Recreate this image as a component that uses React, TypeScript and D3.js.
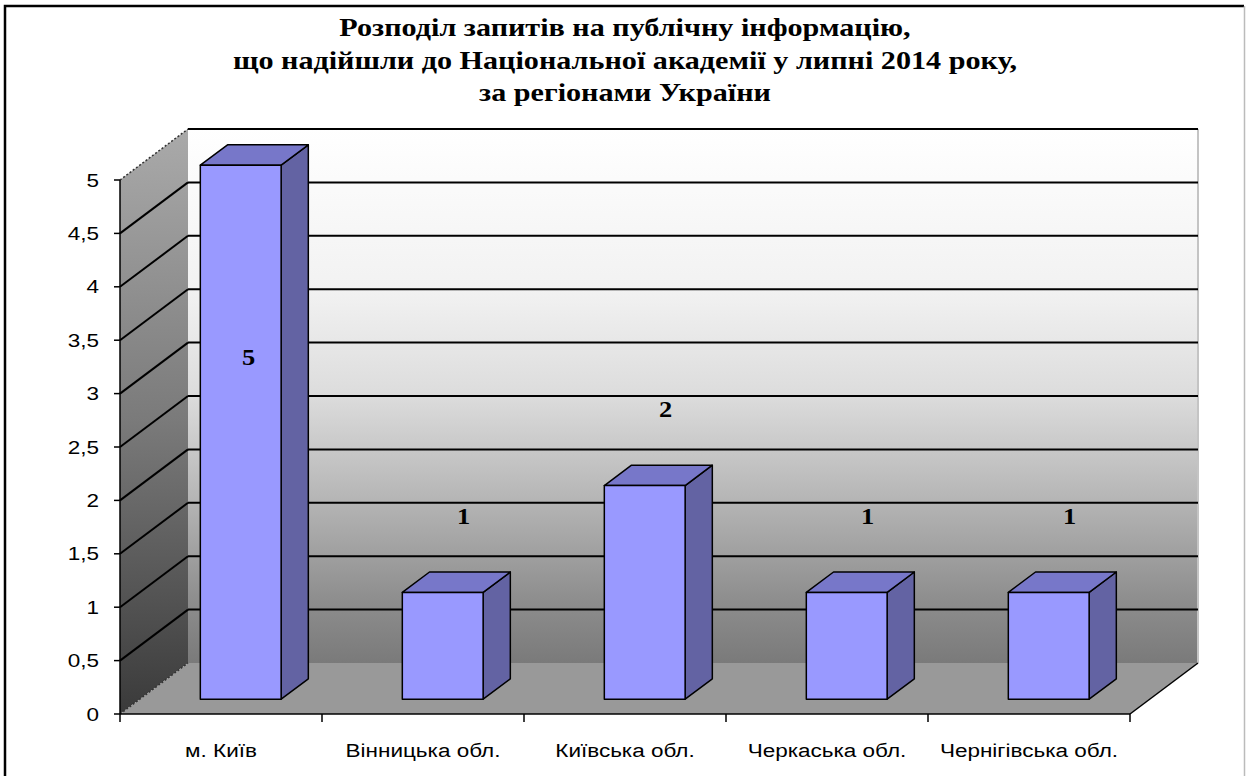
import * as React from "react";
import * as d3 from "d3";

const titleLines = [
  "Розподіл запитів на публічну інформацію,",
  "що надійшли до Національної академії у липні 2014 року,",
  "за регіонами України",
];
const categories = [
  "м. Київ",
  "Вінницька обл.",
  "Київська обл.",
  "Черкаська обл.",
  "Чернігівська обл.",
];
const values = [5, 1, 2, 1, 1];
const yTicks = [0, 0.5, 1, 1.5, 2, 2.5, 3, 3.5, 4, 4.5, 5];

export default function App() {
  const ref = React.useRef<HTMLDivElement | null>(null);
  React.useEffect(() => {
    const width = 1246;
    const height = 776;
    // the original picture is stretched horizontally
    const sx = 1.25;
    const svg = d3
      .select(ref.current)
      .append("svg")
      .attr("width", width)
      .attr("height", height)
      .style("position", "absolute")
      .style("left", "0px")
      .style("top", "0px")
      .style("background", "#fff");

    // front plane of the 3d box
    const x0 = 120;
    const x1 = 1130;
    const yScale = d3.scaleLinear([0, 5], [714, 180]);
    // depth vector (front -> back)
    const ddx = 68;
    const ddy = -51;
    const proj = (x: number, v: number, d: number): [number, number] => [
      x + d * ddx,
      yScale(v) + d * ddy,
    ];
    const xBand = d3
      .scaleBand<string>()
      .domain(categories)
      .range([x0, x1])
      .paddingInner(0.6)
      .paddingOuter(0.3);
    const step = xBand.step();
    const barD0 = 0.29;
    const barD1 = 0.69;

    const defs = svg.append("defs");
    const backGrad = defs
      .append("linearGradient")
      .attr("id", "backGrad")
      .attr("x1", 0)
      .attr("y1", 0)
      .attr("x2", 0)
      .attr("y2", 1);
    [
      [0, "#ffffff"],
      [0.3, "#f2f2f2"],
      [0.5, "#dcdcdc"],
      [0.7, "#b4b4b4"],
      [0.88, "#8e8e8e"],
      [1, "#7a7a7a"],
    ].forEach(([o, c]) =>
      backGrad.append("stop").attr("offset", o).attr("stop-color", c)
    );
    const leftGrad = defs
      .append("linearGradient")
      .attr("id", "leftGrad")
      .attr("x1", 0)
      .attr("y1", 0)
      .attr("x2", 0)
      .attr("y2", 1);
    [
      [0, "#aaaaaa"],
      [0.5, "#7a7a7a"],
      [1, "#3a3a3a"],
    ].forEach(([o, c]) =>
      leftGrad.append("stop").attr("offset", o).attr("stop-color", c)
    );

    const line = d3.line();

    // text helper, stretched like the source image
    const addText = (
      g: d3.Selection<any, unknown, null, undefined>,
      x: number,
      y: number,
      txt: string,
      opts: {
        size: number;
        serif?: boolean;
        bold?: boolean;
        anchor?: string;
        scale?: number;
      }
    ) =>
      g
        .append("text")
        .attr("transform", `translate(${x},${y}) scale(${opts.scale || sx},1)`)
        .attr("text-anchor", opts.anchor || "middle")
        .attr(
          "font-family",
          opts.serif
            ? "'Liberation Serif', 'Times New Roman', serif"
            : "'Liberation Sans', Arial, sans-serif"
        )
        .attr("font-weight", opts.bold ? "bold" : "normal")
        .attr("font-size", opts.size)
        .text(txt);

    // outer border
    svg
      .append("path")
      .attr("d", `M5,${height + 5}V6H1244`)
      .attr("fill", "none")
      .attr("stroke", "#000")
      .attr("stroke-width", 2.5);
    svg
      .append("line")
      .attr("x1", 1244.5)
      .attr("x2", 1244.5)
      .attr("y1", 6)
      .attr("y2", height)
      .attr("stroke", "#bbb")
      .attr("stroke-width", 1.5);

    // title
    const titleG = svg.append("g");
    titleLines.forEach((t, i) => {
      addText(titleG as any, 625, 36 + i * 32.5, t, {
        size: 26,
        serif: true,
        bold: true,
        scale: 1.16,
      });
    });

    // walls and floor
    const backPoly = [
      proj(x0, 0, 1),
      proj(x0, 5, 1),
      proj(x1, 5, 1),
      proj(x1, 0, 1),
    ];
    svg
      .append("path")
      .attr("d", line(backPoly) + "Z")
      .attr("fill", "url(#backGrad)");
    const leftPoly = [
      proj(x0, 0, 0),
      proj(x0, 5, 0),
      proj(x0, 5, 1),
      proj(x0, 0, 1),
    ];
    svg
      .append("path")
      .attr("d", line(leftPoly) + "Z")
      .attr("fill", "url(#leftGrad)");
    const floorPoly = [
      proj(x0, 0, 0),
      proj(x1, 0, 0),
      proj(x1, 0, 1),
      proj(x0, 0, 1),
    ];
    svg
      .append("path")
      .attr("d", line(floorPoly) + "Z")
      .attr("fill", "#999999");

    // right edge of back wall
    svg
      .append("path")
      .attr("d", line([proj(x1, 5, 1), proj(x1, 0, 1)]))
      .attr("stroke", "#c4c4c4")
      .attr("stroke-width", 2);

    // gridlines on back wall and left wall
    const grid = svg.append("g");
    yTicks
      .filter((t) => t > 0)
      .forEach((t) => {
        grid
          .append("path")
          .attr("d", line([proj(x0, t, 1), proj(x1, t, 1)]))
          .attr("stroke", "#000")
          .attr("stroke-width", 2);
      });
    yTicks.forEach((t) => {
      const dotted = t === 0 || t === 5;
      grid
        .append("path")
        .attr("d", line([proj(x0, t, 0), proj(x0, t, 1)]))
        .attr("stroke", dotted ? "#333" : "#000")
        .attr("stroke-width", dotted ? 1.5 : 2)
        .attr("stroke-dasharray", dotted ? "2,2" : null);
    });

    // right floor edge
    svg
      .append("path")
      .attr("d", line([proj(x1, 0, 0), proj(x1, 0, 1)]))
      .attr("stroke", "#000")
      .attr("stroke-width", 1.5);

    // value axis
    const axisG = svg.append("g");
    axisG
      .append("line")
      .attr("x1", x0)
      .attr("x2", x0)
      .attr("y1", yScale(5))
      .attr("y2", yScale(0))
      .attr("stroke", "#000")
      .attr("stroke-width", 1.5);
    yTicks.forEach((t) => {
      axisG
        .append("line")
        .attr("x1", x0 - 6)
        .attr("x2", x0)
        .attr("y1", yScale(t))
        .attr("y2", yScale(t))
        .attr("stroke", "#000")
        .attr("stroke-width", 1.5);
      addText(axisG as any, x0 - 21, yScale(t) + 6.5, String(t).replace(".", ","), {
        size: 18,
        anchor: "end",
      });
    });

    // category axis
    axisG
      .append("line")
      .attr("x1", x0)
      .attr("x2", x1)
      .attr("y1", yScale(0))
      .attr("y2", yScale(0))
      .attr("stroke", "#000")
      .attr("stroke-width", 1.5);
    d3.range(categories.length + 1).forEach((i) => {
      axisG
        .append("line")
        .attr("x1", x0 + i * step)
        .attr("x2", x0 + i * step)
        .attr("y1", yScale(0))
        .attr("y2", yScale(0) + 8)
        .attr("stroke", "#000")
        .attr("stroke-width", 1.5);
    });
    categories.forEach((c) => {
      addText(axisG as any, (xBand(c) as number) + xBand.bandwidth() / 2, 757, c, {
        size: 18,
      });
    });

    // bars
    const barsG = svg.append("g");
    categories.forEach((c, i) => {
      const v = values[i];
      const bx0 = xBand(c) as number;
      const bx1 = bx0 + xBand.bandwidth();
      const front = [
        proj(bx0, 0, barD0),
        proj(bx0, v, barD0),
        proj(bx1, v, barD0),
        proj(bx1, 0, barD0),
      ];
      const top = [
        proj(bx0, v, barD0),
        proj(bx0, v, barD1),
        proj(bx1, v, barD1),
        proj(bx1, v, barD0),
      ];
      const side = [
        proj(bx1, 0, barD0),
        proj(bx1, v, barD0),
        proj(bx1, v, barD1),
        proj(bx1, 0, barD1),
      ];
      [
        [side, "#6363a3"],
        [top, "#7777c9"],
        [front, "#9999ff"],
      ].forEach(([pts, fill]) => {
        barsG
          .append("path")
          .attr("d", line(pts as [number, number][]) + "Z")
          .attr("fill", fill as string)
          .attr("stroke", "#000")
          .attr("stroke-width", 1.5)
          .attr("stroke-linejoin", "round");
      });
    });

    // data labels
    const maxV = d3.max(values) as number;
    const labelsG = svg.append("g");
    values.forEach((d, i) => {
      const inside = d + 0.72 > maxV;
      const cx = (xBand(categories[i]) as number) + xBand.bandwidth() / 2;
      const [lx, ly] = proj(cx, inside ? d - 1.8 : d + 0.72, barD0);
      addText(labelsG as any, lx + (inside ? 8 : 21), ly + 8, String(d), {
        size: 23,
        serif: true,
        bold: true,
        scale: 1.15,
      });
    });

    return function cleanup() {
      // eslint-disable-next-line react-hooks/exhaustive-deps
      d3.select(ref.current).selectAll("svg").remove();
    };
  }, []);

  return <div ref={ref}></div>;
}
